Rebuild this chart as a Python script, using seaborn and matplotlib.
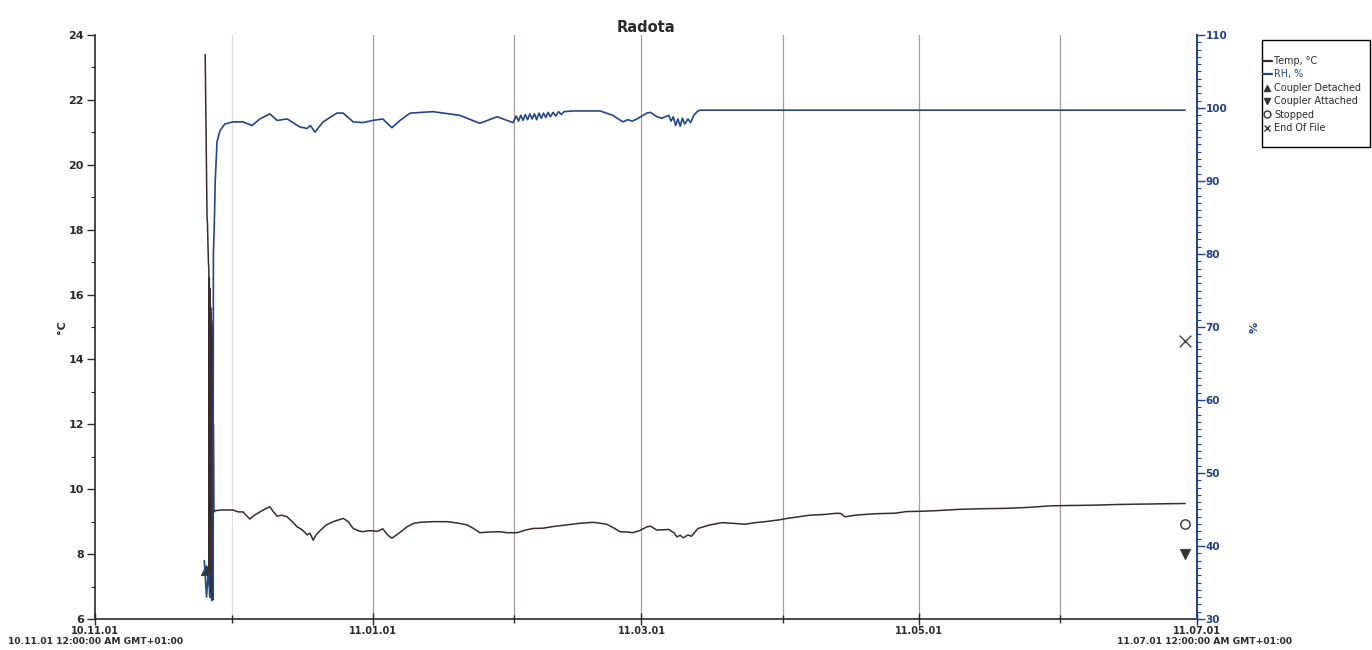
import matplotlib
matplotlib.use("Agg")
import numpy as np
import pandas as pd
import seaborn as sns
import matplotlib.pyplot as plt
import matplotlib.dates as mdates
from matplotlib.ticker import MultipleLocator
from matplotlib.lines import Line2D
from matplotlib.patches import Rectangle

# ---------------- data (days since 2010-11-01) ----------------
temp_day = [24.2, 24.6, 24.7, 24.9, 25.0, 25.05, 25.1, 25.15, 25.2, 25.25, 25.3, 25.35, 25.4, 25.45,
            25.5, 25.55, 25.6, 25.65, 25.7, 25.75, 25.8, 25.85, 25.9, 25.95, 26.0, 26.1,
            26.4, 28.0, 30.3, 31.5, 32.5, 34.0, 35.0, 36.2, 37.5, 38.4, 39.2, 40.0, 41.0, 42.2, 43.3,
            44.4, 45.5, 46.6, 47.2, 47.9, 48.6, 49.4, 50.8, 52.3, 54.5, 55.6, 56.7, 57.8, 58.8, 60.0,
            61.0, 62.0, 63.2, 64.2, 65.2, 66.8, 68.5, 70.0, 71.4, 74.0, 77.3, 79.5, 81.7, 83.0, 84.5,
            86.5, 88.9, 90.5, 92.7, 94.5, 96.2, 98.5, 100.6, 103.6, 106.5, 109.4, 111.0, 112.4, 114.0,
            115.3, 117.0, 118.1, 119.5, 121.2, 122.0, 123.4, 126.0, 127.2, 127.8, 128.5, 129.2, 130.2,
            131.0, 132.4, 135.0, 137.7, 140.0, 142.7, 145.0, 147.1, 150.0, 152.0, 154.5, 157.0, 160.0,
            162.9, 163.8, 164.7, 167.0, 169.7, 172.5, 175.7, 178.1, 181.5, 184.9, 187.5, 189.9, 195.0,
            200.0, 205.0, 210.1, 215.0, 220.0, 224.5, 228.6, 234.0, 239.4]
temp_val = [23.4, 18.4, 18.2, 17.0, 16.8, 7.2, 16.5, 7.0, 16.2, 6.9, 16.0, 6.8, 15.6, 6.8,
            15.4, 6.7, 15.2, 6.7, 15.0, 6.6, 14.6, 6.6, 14.0, 6.6, 12.0, 9.3,
            9.34, 9.36, 9.36, 9.30, 9.30, 9.08, 9.20, 9.30, 9.40, 9.46, 9.30, 9.17, 9.20, 9.15, 9.00,
            8.84, 8.75, 8.59, 8.65, 8.43, 8.60, 8.72, 8.90, 9.00, 9.10, 9.00, 8.79, 8.72, 8.69, 8.72,
            8.72, 8.70, 8.78, 8.60, 8.49, 8.65, 8.84, 8.95, 8.98, 9.00, 9.00, 8.96, 8.90, 8.80, 8.66,
            8.68, 8.69, 8.66, 8.66, 8.74, 8.79, 8.80, 8.85, 8.90, 8.95, 8.98, 8.95, 8.92, 8.80,
            8.69, 8.68, 8.66, 8.72, 8.84, 8.86, 8.74, 8.76, 8.65, 8.53, 8.58, 8.50, 8.59,
            8.55, 8.79, 8.90, 8.97, 8.95, 8.92, 8.97, 9.00, 9.05, 9.10, 9.15, 9.20, 9.22,
            9.26, 9.25, 9.15, 9.20, 9.23, 9.25, 9.26, 9.31, 9.32, 9.34, 9.36, 9.38, 9.40,
            9.41, 9.44, 9.49, 9.50, 9.51, 9.53, 9.54, 9.55, 9.56]

rh_day = [24.0, 24.3, 24.5, 24.8, 25.0, 25.2, 25.5, 25.7, 25.9, 26.0, 26.2, 26.4, 26.8, 27.45,
          28.5, 30.3, 32.5, 34.5, 36.2, 38.4, 40.0, 42.2, 45.0, 46.6, 47.3, 48.3, 50.1, 53.1, 54.5,
          56.7, 58.8, 61.0, 63.2, 65.2, 67.0, 69.2, 74.2, 80.1, 84.5, 88.3, 91.8,
          92.5, 93.0, 93.5, 94.0, 94.5, 95.0, 95.5, 96.0, 96.5, 97.0, 97.5, 98.0, 98.5, 99.0,
          99.5, 100.0, 100.6, 101.2, 101.8, 102.4, 103.0, 105.0, 110.9, 113.7, 115.9, 117.0,
          118.0, 119.0, 121.2, 122.0, 123.4, 124.5, 126.0, 126.5, 127.0, 127.5, 128.0, 128.5,
          129.0, 129.5, 130.2, 130.8, 131.5, 132.4, 133.0, 239.4]
rh_val = [38.0, 35.0, 33.0, 36.0, 36.0, 33.0, 33.0, 32.5, 33.0, 80.0, 84.0, 90.0, 95.4, 96.9,
          97.8, 98.1, 98.1, 97.6, 98.5, 99.2, 98.3, 98.5, 97.4, 97.2, 97.6, 96.7, 98.1, 99.3, 99.3,
          98.1, 98.0, 98.3, 98.5, 97.3, 98.3, 99.3, 99.5, 99.0, 97.9, 98.8, 98.0,
          98.9, 98.2, 99.0, 98.3, 99.1, 98.4, 99.2, 98.5, 99.2, 98.4, 99.3, 98.6, 99.3, 98.7,
          99.4, 98.8, 99.4, 98.9, 99.5, 99.1, 99.5, 99.6, 99.6, 99.0, 98.1, 98.4,
          98.2, 98.5, 99.3, 99.4, 98.8, 98.6, 99.0, 98.2, 98.8, 97.6, 98.5, 97.5,
          98.6, 97.8, 98.5, 98.0, 99.0, 99.6, 99.7, 99.7]

event_names = ["Coupler Detached", "End Of File", "Stopped", "Coupler Attached"]
event_day = [24.4, 239.4, 239.4, 239.4]
event_val = [7.5, 14.57, 8.93, 8.0]

x_start, x_end = "2010-11-01", "2011-07-01"
stamp_left = "10.11.01 12:00:00 AM GMT+01:00"
stamp_right = "11.07.01 12:00:00 AM GMT+01:00"

# ---------------- style ----------------
TEMP_C = "#3b2b2b"
RH_C = "#22468a"
AX_BLUE = "#1f3f8f"
TXT = "#2a2a2a"
GRID_C = "#a89c9c"

sns.set_theme(style="white")
plt.rcParams["font.family"] = ["DejaVu Sans"]

fig = plt.figure(figsize=(13.72, 6.5), dpi=100)
ax = fig.add_axes([95 / 1372, 1 - 619 / 650, (1197 - 95) / 1372, (619 - 35) / 650])
ax2 = ax.twinx()

start = pd.Timestamp(x_start)
df_t = pd.DataFrame({"time": start + pd.to_timedelta(temp_day, unit="D"), "temp": temp_val})
df_r = pd.DataFrame({"time": start + pd.to_timedelta(rh_day, unit="D"), "rh": rh_val})
df_e = pd.DataFrame({"time": start + pd.to_timedelta(event_day, unit="D"),
                     "val": event_val, "event": event_names})

sns.lineplot(data=df_t, x="time", y="temp", ax=ax, color=TEMP_C, lw=1.1,
             sort=False, estimator=None)
sns.lineplot(data=df_r, x="time", y="rh", ax=ax2, color=RH_C, lw=1.2,
             sort=False, estimator=None)

ev_style = {
    "Coupler Detached": dict(marker="^", s=55, color="#333333", edgecolor="#333333"),
    "Coupler Attached": dict(marker="v", s=55, color="#333333", edgecolor="#333333"),
    "Stopped": dict(marker="o", s=45, facecolor="white", edgecolor="#333333", linewidth=1.0),
    "End Of File": dict(marker="x", s=70, color="#444444", linewidth=1.0),
}
for name in event_names:
    sub = df_e[df_e["event"] == name]
    sns.scatterplot(data=sub, x="time", y="val", ax=ax, zorder=5, **ev_style[name])

ax.set_xlim(pd.Timestamp(x_start), pd.Timestamp(x_end))
ax.set_ylim(6, 24)
ax2.set_ylim(30, 110)

ax.xaxis.set_major_locator(mdates.MonthLocator(bymonth=[1, 3, 5, 7, 11]))
ax.xaxis.set_major_formatter(mdates.DateFormatter("%y.%m.%d"))
ax.xaxis.set_minor_locator(mdates.MonthLocator())
ax.set_yticks(np.arange(6, 25, 2))
ax.yaxis.set_minor_locator(MultipleLocator(1))
ax2.set_yticks(np.arange(30, 111, 10))
ax2.yaxis.set_minor_locator(MultipleLocator(1))

ax.grid(False)
ax2.grid(False)
# vertical monthly gridlines (first one is very faint on the scan)
month_locs = [m for m in ax.xaxis.get_minorticklocs()]
all_locs = sorted(set(list(ax.get_xticks()) + month_locs))
lo, hi = ax.get_xlim()
interior = [v for v in all_locs if lo + 1 < v < hi - 1]
for i, v in enumerate(interior):
    ax.axvline(v, color="#e2dcdc" if i == 0 else GRID_C, lw=0.9, zorder=0)

for s in ["top", "right"]:
    ax.spines[s].set_visible(False)
for s in ["top", "left", "bottom"]:
    ax2.spines[s].set_visible(False)
ax.spines["left"].set_color(TXT)
ax.spines["bottom"].set_color(TXT)
ax.spines["left"].set_linewidth(1.2)
ax.spines["bottom"].set_linewidth(1.2)
ax2.spines["right"].set_color(AX_BLUE)
ax2.spines["right"].set_linewidth(1.4)

ax.tick_params(axis="y", which="major", left=True, direction="out", length=6, width=1,
               color=TXT, labelsize=8, labelcolor=TXT, pad=2)
ax.tick_params(axis="y", which="minor", left=True, direction="out", length=3, width=0.8, color=TXT)
ax.tick_params(axis="x", which="major", bottom=True, direction="inout", length=8, width=1,
               color=TXT, labelsize=7, labelcolor=TXT, pad=1)
ax.tick_params(axis="x", which="minor", bottom=True, direction="inout", length=6, width=1, color=TXT)
ax2.tick_params(axis="y", which="major", right=True, direction="out", length=6, width=1,
                color=AX_BLUE, labelsize=7.5, labelcolor=AX_BLUE, pad=0)
ax2.tick_params(axis="y", which="minor", right=True, direction="out", length=3, width=0.8,
                color=AX_BLUE)

for lab in ax.get_yticklabels() + ax.get_xticklabels() + ax2.get_yticklabels():
    lab.set_fontweight("bold")

ax.set_xlabel("")
ax.set_ylabel("°C", fontsize=8, fontweight="bold", color=TXT)
ax.yaxis.set_label_coords(-0.025, 0.5)
ax2.set_ylabel("%", fontsize=8, fontweight="bold", color=AX_BLUE)
ax2.yaxis.set_label_coords(1.048, 0.5)

ax.set_title("Radota", fontsize=10.5, fontweight="bold", color=TXT, pad=1)

fig.text(8 / 1372, 1 - 641 / 650, stamp_left, ha="left", va="center",
         fontsize=6.6, fontweight="bold", color=TXT)
fig.text(1117 / 1372, 1 - 641 / 650, stamp_right, ha="left", va="center",
         fontsize=6.6, fontweight="bold", color=TXT)

# legend box
fig.patches.append(Rectangle((1262 / 1372, 1 - 147 / 650), 108 / 1372, 107 / 650,
                             transform=fig.transFigure, fill=True, facecolor="white",
                             edgecolor="black", lw=1.0, zorder=3))
handles = [
    Line2D([], [], color=TEMP_C, lw=1.6, label="Temp, °C"),
    Line2D([], [], color=RH_C, lw=1.6, label="RH, %"),
    Line2D([], [], marker="^", ls="", color="#333333", ms=5, label="Coupler Detached"),
    Line2D([], [], marker="v", ls="", color="#333333", ms=5, label="Coupler Attached"),
    Line2D([], [], marker="o", ls="", markerfacecolor="white", markeredgecolor="#333333", ms=5,
           label="Stopped"),
    Line2D([], [], marker="x", ls="", color="#333333", ms=5, label="End Of File"),
]
leg = fig.legend(handles=handles, loc="upper left", bbox_to_anchor=(1263 / 1372, 1 - 56 / 650),
                 fontsize=6.9, frameon=False, handlelength=0.9, handletextpad=0.3,
                 labelspacing=0.36, borderpad=0.0, borderaxespad=0)
leg.set_zorder(4)
for t, c in zip(leg.get_texts(), [TXT, RH_C, TXT, TXT, TXT, TXT]):
    t.set_color(c)

fig.savefig("out.png", dpi=100, facecolor="white")
